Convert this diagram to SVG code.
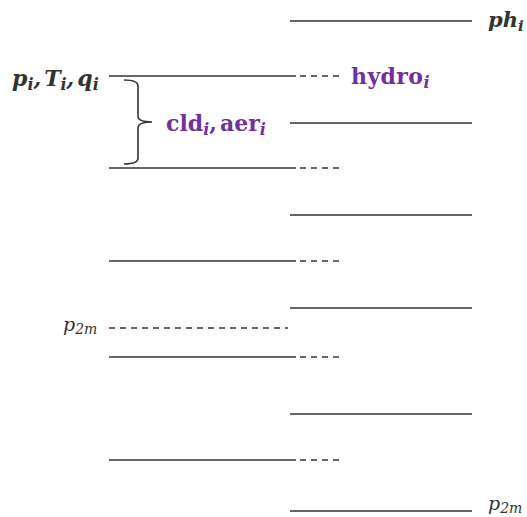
<svg xmlns="http://www.w3.org/2000/svg" width="527" height="517" viewBox="0 0 527 517">
<style>
.ln{stroke:#333;stroke-width:1.6;fill:none}
.dl{stroke:#333;stroke-width:1.4;fill:none;stroke-dasharray:6,5}
.t{font-family:"DejaVu Serif","Liberation Serif",serif;fill:#333}
.bi{font-weight:bold;font-style:italic}
.pu{fill:#7030A0;font-weight:bold}
</style>
<rect width="527" height="517" fill="#fff"/>
<g id="connectors">
<line class="ln" x1="109" y1="76" x2="296" y2="76"/>
<line class="ln" x1="109" y1="168" x2="296" y2="168"/>
<line class="ln" x1="109" y1="261" x2="296" y2="261"/>
<line class="ln" x1="109" y1="357" x2="296" y2="357"/>
<line class="ln" x1="109" y1="460" x2="296" y2="460"/>
<line class="dl" x1="300" y1="76" x2="341" y2="76"/>
<line class="dl" x1="300" y1="168" x2="341" y2="168"/>
<line class="dl" x1="300" y1="261" x2="341" y2="261"/>
<line class="dl" x1="300" y1="357" x2="341" y2="357"/>
<line class="dl" x1="300" y1="460" x2="341" y2="460"/>
<line class="ln" x1="290" y1="21" x2="472" y2="21"/>
<line class="ln" x1="290" y1="123" x2="472" y2="123"/>
<line class="ln" x1="290" y1="215" x2="472" y2="215"/>
<line class="ln" x1="290" y1="308" x2="472" y2="308"/>
<line class="ln" x1="290" y1="414" x2="472" y2="414"/>
<line class="ln" x1="290" y1="511" x2="472" y2="511"/>
<line class="dl" x1="109" y1="328" x2="288" y2="328"/>
<path class="ln" d="M124,80 Q138,80 138,86 L138,116 Q138,122 152,122 Q138,122 138,128 L138,158 Q138,164 124,164"/>
</g>
<g id="labels">
<text class="t bi" x="12" y="86" font-size="22">p<tspan font-size="16" dy="4">i</tspan><tspan dy="-4">,</tspan><tspan dx="3">T</tspan><tspan font-size="16" dy="4">i</tspan><tspan dy="-4">,</tspan><tspan dx="3">q</tspan><tspan font-size="16" dy="4">i</tspan></text>
<text class="t pu" x="166" y="131" font-size="22">cld<tspan font-size="16" dy="4" font-style="italic">i</tspan><tspan dy="-4">,</tspan><tspan dx="3">aer</tspan><tspan font-size="16" dy="4" font-style="italic">i</tspan></text>
<text class="t pu" x="351" y="84" font-size="22" letter-spacing="0.4">hydro<tspan font-size="16" dy="4" font-style="italic">i</tspan></text>
<text class="t bi" x="488" y="27" font-size="21">ph<tspan font-size="15" dy="4">i</tspan></text>
<text class="t" x="63" y="331" font-size="19" font-style="italic">p<tspan font-size="14" dy="3">2m</tspan></text>
<text class="t" x="488" y="510" font-size="19" font-style="italic">p<tspan font-size="14" dy="3">2m</tspan></text>
</g>
</svg>
